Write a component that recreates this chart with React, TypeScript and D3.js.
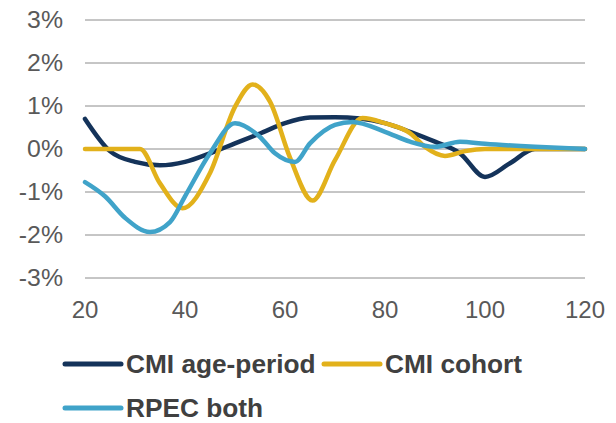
import React from 'react';
import * as d3 from 'd3';

const ageTicks = [20, 40, 60, 80, 100, 120];
const pctTicks = [3, 2, 1, 0, -1, -2, -3];

const ageAgePeriod = [20, 25, 30, 35, 40, 45, 50, 55, 60, 65, 70, 75, 80, 85, 90, 95, 100, 105, 110, 115, 120];
const cmiAgePeriod = [0.7, -0.05, -0.3, -0.38, -0.3, -0.1, 0.13, 0.36, 0.6, 0.73, 0.74, 0.71, 0.6, 0.4, 0.17, -0.1, -0.65, -0.33, 0, 0, 0];

const ageCohort = [20, 25, 31, 35, 39.5, 45, 50, 53.5, 57, 61, 65.5, 70, 75.5, 80, 85, 88, 92, 96, 100, 110, 120];
const cmiCohort = [0, 0, 0, -0.8, -1.38, -0.56, 0.98, 1.5, 1.1, -0.2, -1.2, -0.26, 0.72, 0.6, 0.37, 0.05, -0.16, -0.05, 0, 0, 0];

const ageRpec = [20, 24, 28, 33, 37, 40, 45, 50, 55, 58, 62, 65, 70, 73.5, 80, 85, 90, 95, 100, 110, 120];
const rpecBoth = [-0.77, -1.1, -1.6, -1.93, -1.7, -1.1, -0.1, 0.6, 0.28, -0.1, -0.3, 0.13, 0.56, 0.63, 0.4, 0.17, 0.05, 0.17, 0.12, 0.05, 0];

const seriesNames = ['CMI age-period', 'CMI cohort', 'RPEC both'];
const seriesColors = ['#14335a', '#e2b11b', '#40a3c9'];

const W = 616;
const H = 423;

export default function App() {
  const x = d3.scaleLinear().domain([20, 120]).range([85, 585]);
  const y = d3.scaleLinear().domain([-3, 3]).range([278, 20]);

  const line = d3
    .line<[number, number]>()
    .x(d => x(d[0]))
    .y(d => y(d[1]))
    .curve(d3.curveMonotoneX);

  const series = [
    d3.zip(ageAgePeriod, cmiAgePeriod) as [number, number][],
    d3.zip(ageCohort, cmiCohort) as [number, number][],
    d3.zip(ageRpec, rpecBoth) as [number, number][],
  ];

  const font = '"Liberation Sans", Arial, sans-serif';

  // legend layout: two entries on first row, one on the second
  const legend = [
    { x: 65, y: 364 },
    { x: 324, y: 364 },
    { x: 65, y: 408 },
  ];

  return (
    <svg width={W} height={H} style={{ position: 'absolute', left: 0, top: 0, background: '#fff' }}>
      {pctTicks.map(t => (
        <line key={t} x1={85} x2={585} y1={y(t)} y2={y(t)} stroke="#8c8c8c" strokeWidth={1} />
      ))}
      {pctTicks.map(t => (
        <text
          key={'l' + t}
          transform={`translate(63,${y(t)}) scale(1.08,1)`}
          dy="0.36em"
          textAnchor="end"
          fontFamily={font}
          fontSize={23}
          fill="#595959"
        >
          {t}%
        </text>
      ))}
      {ageTicks.map(t => (
        <text key={t} x={x(t)} y={318} textAnchor="middle" fontFamily={font} fontSize={24} fill="#595959">
          {t}
        </text>
      ))}
      {series.map((s, i) => (
        <path
          key={i}
          d={line(s) || ''}
          fill="none"
          stroke={seriesColors[i]}
          strokeWidth={4.5}
          strokeLinejoin="round"
          strokeLinecap="round"
        />
      ))}
      {legend.map((p, i) => (
        <g key={i}>
          <line x1={p.x} x2={p.x + 56} y1={p.y} y2={p.y} stroke={seriesColors[i]} strokeWidth={5} strokeLinecap="round" />
          <text
            transform={`translate(${p.x + 61},${p.y}) scale(1.05,1)`}
            dy="0.36em"
            fontFamily={font}
            fontSize={25}
            fontWeight="bold"
            fill="#404040"
          >
            {seriesNames[i]}
          </text>
        </g>
      ))}
    </svg>
  );
}
